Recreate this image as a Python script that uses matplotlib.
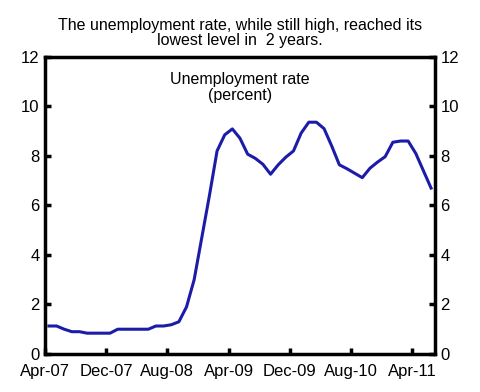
#!/usr/bin/env python3
import numpy as np
import matplotlib
matplotlib.use("Agg")
import matplotlib.pyplot as plt

# monthly unemployment rate, Apr-07 .. Jun-11 (percent)
months = ["Apr-07", "May-07", "Jun-07", "Jul-07", "Aug-07", "Sep-07", "Oct-07", "Nov-07",
          "Dec-07", "Jan-08", "Feb-08", "Mar-08", "Apr-08", "May-08", "Jun-08", "Jul-08",
          "Aug-08", "Sep-08", "Oct-08", "Nov-08", "Dec-08", "Jan-09", "Feb-09", "Mar-09",
          "Apr-09", "May-09", "Jun-09", "Jul-09", "Aug-09", "Sep-09", "Oct-09", "Nov-09",
          "Dec-09", "Jan-10", "Feb-10", "Mar-10", "Apr-10", "May-10", "Jun-10", "Jul-10",
          "Aug-10", "Sep-10", "Oct-10", "Nov-10", "Dec-10", "Jan-11", "Feb-11", "Mar-11",
          "Apr-11", "May-11", "Jun-11"]
rate = [1.13, 1.13, 1.0, 0.9, 0.9, 0.84, 0.84, 0.84,
        0.84, 1.0, 1.0, 1.0, 1.0, 1.0, 1.13, 1.13,
        1.18, 1.3, 1.9, 3.0, 4.7, 6.4, 8.2, 8.85,
        9.09, 8.71, 8.07, 7.9, 7.66, 7.26, 7.64, 7.95,
        8.2, 8.92, 9.36, 9.36, 9.1, 8.4, 7.64, 7.48,
        7.3, 7.12, 7.5, 7.75, 7.97, 8.55, 8.6, 8.6,
        8.1, 7.4, 6.7]

tick_every = 8
yticks = [0, 2, 4, 6, 8, 10, 12]

plt.rcParams['font.family'] = ['Liberation Sans', 'DejaVu Sans']

fig = plt.figure(figsize=(4.8, 3.92), dpi=100)
ax = fig.add_axes([0.094, 0.097, 0.812, 0.758])

x = np.arange(len(rate)) + 0.5   # points sit in the middle of each month slot
ax.plot(x, rate, color='#1c1ca8', lw=2.2, solid_joinstyle='round')

ax.set_xlim(0, len(rate))
ax.set_ylim(0, 12)
xt = np.arange(0, len(rate), tick_every)
ax.set_xticks(xt)
ax.set_xticklabels([months[i] for i in xt])
ax.set_yticks(yticks)

ax.tick_params(axis='both', direction='in', length=4, width=2.5, labelsize=12,
               colors='black', pad=4)
ax.tick_params(axis='x', pad=7)
ax.tick_params(axis='y', left=True, right=True, labelleft=True, labelright=True)
for s in ax.spines.values():
    s.set_linewidth(2.5)

ax.text(0.5, 0.95, "Unemployment rate\n(percent)", transform=ax.transAxes,
        ha='center', va='top', fontsize=11.5, linespacing=1.1)

fig.text(0.5, 0.955, "The unemployment rate, while still high, reached its\nlowest level in  2 years.",
         ha='center', va='top', fontsize=11.5, linespacing=1.05)

fig.savefig("out.png", dpi=100)
